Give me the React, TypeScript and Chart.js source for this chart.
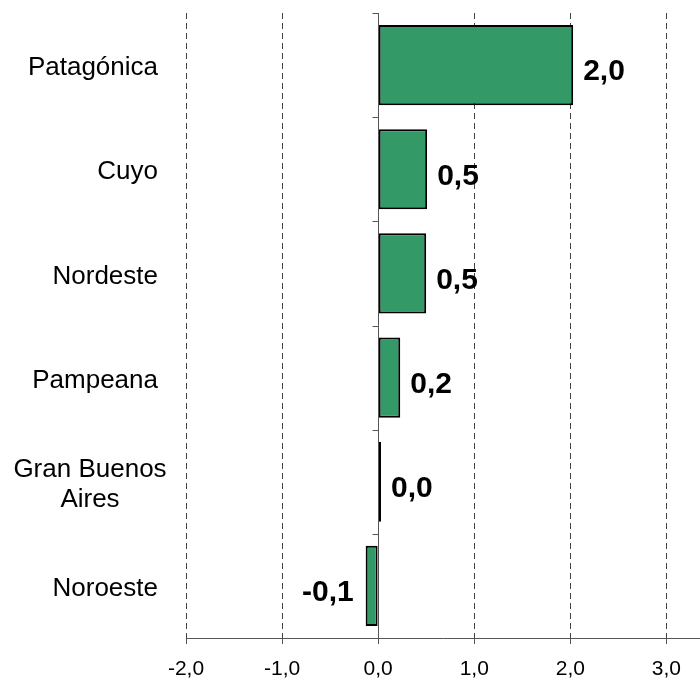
import React, { useEffect, useRef } from 'react';
import { Chart, registerables } from 'chart.js';

Chart.register(...registerables);

const categories = ['Patagónica', 'Cuyo', 'Nordeste', 'Pampeana', 'Gran Buenos Aires', 'Noroeste'];
const categoryLines = [['Patagónica'], ['Cuyo'], ['Nordeste'], ['Pampeana'], ['Gran Buenos', 'Aires'], ['Noroeste']];
const values = [2.03, 0.51, 0.5, 0.23, 0.03, -0.13];
const valueLabels = ['2,0', '0,5', '0,5', '0,2', '0,0', '-0,1'];
const xTicks = [-2, -1, 0, 1, 2, 3];
const xMin = -2;
const xMax = 3.35;

const FONT = '"Liberation Sans", Arial, sans-serif';

const overlay = {
  id: 'overlay',
  afterDatasetsDraw(chart: any) {
    const ctx = chart.ctx;
    const { top, bottom } = chart.chartArea;
    const xs = chart.scales.x;
    const ys = chart.scales.y;
    const x0 = Math.round(xs.getPixelForValue(0)) + 0.5;
    ctx.save();
    ctx.setLineDash([]);
    ctx.strokeStyle = '#555';
    ctx.lineWidth = 1;
    ctx.beginPath();
    ctx.moveTo(x0, top);
    ctx.lineTo(x0, bottom);
    ctx.stroke();
    const n = categories.length;
    for (let i = 0; i <= n; i++) {
      const y = Math.round(top + (i * (bottom - top)) / n) + 0.5;
      ctx.beginPath();
      ctx.moveTo(x0 - 6, y);
      ctx.lineTo(x0, y);
      ctx.stroke();
    }
    // value labels
    const meta = chart.getDatasetMeta(0);
    ctx.font = 'bold 30px ' + FONT;
    ctx.fillStyle = '#000';
    ctx.textBaseline = 'middle';
    meta.data.forEach((bar: any, i: number) => {
      const v = values[i];
      if (v >= 0) {
        ctx.textAlign = 'left';
        ctx.fillText(valueLabels[i], bar.x + 10, bar.y + 7);
      } else {
        ctx.textAlign = 'right';
        ctx.fillText(valueLabels[i], bar.x - 12, bar.y + 7);
      }
    });
    // category labels
    ctx.font = '26px ' + FONT;
    ctx.textAlign = 'center';
    const lineH = 30;
    const rightEdge = 158;
    const blockCenter = 90;
    categoryLines.forEach((lines, i) => {
      const cy = ys.getPixelForValue(i) + 3;
      const w = Math.max(...lines.map((l) => ctx.measureText(l).width));
      const cx = lines.length > 1 ? blockCenter : rightEdge - w / 2;
      const y0 = cy - ((lines.length - 1) * lineH) / 2;
      lines.forEach((l, j) => ctx.fillText(l, cx, y0 + j * lineH));
    });
    ctx.restore();
  },
};

export default function App() {
  const ref = useRef<HTMLCanvasElement>(null);
  useEffect(() => {
    document.body.style.margin = '0';
    const chart = new Chart(ref.current as HTMLCanvasElement, {
      type: 'bar',
      data: {
        labels: categories,
        datasets: [
          {
            data: values,
            backgroundColor: '#339966',
            borderColor: '#000',
            borderWidth: 2,
            borderSkipped: false,
            barPercentage: 0.77,
            categoryPercentage: 1,
          },
        ],
      },
      options: {
        indexAxis: 'y',
        responsive: false,
        animation: false,
        layout: { padding: { top: 13, left: 0, right: 0, bottom: 0 } },
        plugins: { legend: { display: false }, tooltip: { enabled: false }, title: { display: false } },
        scales: {
          x: {
            type: 'linear',
            min: xMin,
            max: xMax,
            afterBuildTicks: (scale: any) => {
              scale.ticks = xTicks.map((v) => ({ value: v }));
            },
            afterFit: (scale: any) => {
              scale.height = 44;
            },
            border: { display: true, color: '#555', width: 1, dash: [6, 4] },
            grid: {
              color: (c: any) => (c.tick && c.tick.value === 0 ? 'rgba(0,0,0,0)' : '#444'),
              lineWidth: 1,
              tickColor: '#555',
              tickLength: 6,
              tickBorderDash: [],
            },
            ticks: {
              color: '#000',
              font: { family: FONT, size: 21 },
              padding: 13,
              maxRotation: 0,
              callback: (v: any) => Number(v).toFixed(1).replace('.', ','),
            },
          },
          y: {
            type: 'category',
            afterFit: (scale: any) => {
              scale.width = 186;
            },
            border: { display: false },
            grid: { display: false },
            ticks: { display: false },
          },
        },
      },
      plugins: [overlay],
    });
    return () => chart.destroy();
  }, []);
  return <canvas ref={ref} width={700} height={682} style={{ display: 'block' }} />;
}
